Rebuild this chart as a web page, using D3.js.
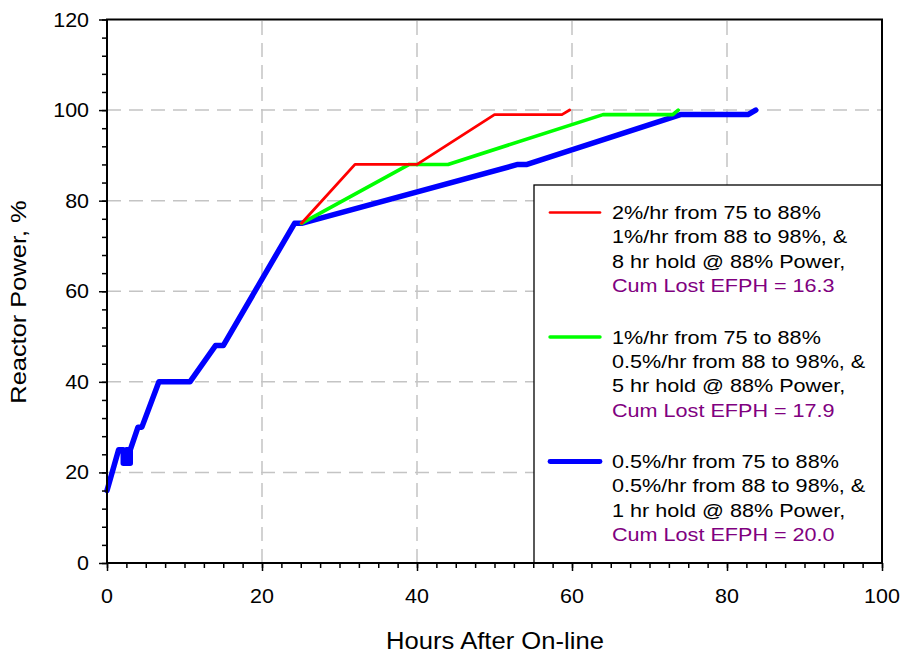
<!DOCTYPE html>
<html>
<head>
<meta charset="utf-8">
<script src="https://cdn.jsdelivr.net/npm/d3@7"></script>
<style>
  html, body { margin: 0; padding: 0; background: #fff; }
  svg { display: block; font-family: "Liberation Sans", Arial, sans-serif; }
</style>
</head>
<body>
<svg width="904" height="653"></svg>
<script>
// 功率爬升曲线：小时 vs 反应堆功率
const blueHours = [0, 1.5, 2.1, 2.1, 2.5, 2.5, 2.7, 2.7, 3.0, 3.0, 4, 4.5, 6.7, 10.7, 14, 15, 24.2, 25.1, 53, 54.2, 74, 82.7, 83.7];
const bluePower = [16, 25, 25, 22, 22, 25, 25, 22, 22, 25, 30, 30, 40, 40, 48, 48, 75, 75, 88, 88, 99, 99, 100];
const greenHours = [25.1, 39, 44, 64, 73, 73.7];
const greenPower = [75, 88, 88, 99, 99, 100];
const redHours = [25.1, 32, 40, 50, 58.7, 59.7];
const redPower = [75, 88, 88, 99, 99, 100];

const xTicks = [0, 20, 40, 60, 80, 100];
const yTicks = [0, 20, 40, 60, 80, 100, 120];

const legendItems = [
  { color: "#ff0000", width: 2.7, lines: ["2%/hr from 75 to 88%", "1%/hr from 88 to 98%, &", "8 hr hold @ 88% Power,"], efph: "Cum Lost EFPH = 16.3" },
  { color: "#00ff00", width: 3.4, lines: ["1%/hr from 75 to 88%", "0.5%/hr from 88 to 98%, &", "5 hr hold @ 88% Power,"], efph: "Cum Lost EFPH = 17.9" },
  { color: "#0000ff", width: 4.8, lines: ["0.5%/hr from 75 to 88%", "0.5%/hr from 88 to 98%, &", "1 hr hold @ 88% Power,"], efph: "Cum Lost EFPH = 20.0" },
];

const svg = d3.select("svg");
const plotLeft = 107, plotRight = 882, plotTop = 19.5, plotBottom = 563;

const x = d3.scaleLinear().domain([0, 100]).range([plotLeft, plotRight]);
const y = d3.scaleLinear().domain([0, 120]).range([plotBottom, plotTop]);

// 网格虚线
svg.append("g")
  .selectAll("line")
  .data(yTicks.filter((v) => v > 0 && v < 120))
  .join("line")
  .attr("x1", plotLeft).attr("x2", plotRight)
  .attr("y1", (d) => y(d)).attr("y2", (d) => y(d))
  .attr("stroke", "#c4c4c4").attr("stroke-width", 1.5)
  .attr("stroke-dasharray", "14,8");

svg.append("g")
  .selectAll("line")
  .data(xTicks.filter((v) => v > 0 && v < 100))
  .join("line")
  .attr("x1", (d) => x(d)).attr("x2", (d) => x(d))
  .attr("y1", plotBottom).attr("y2", plotTop)
  .attr("stroke", "#c4c4c4").attr("stroke-width", 1.5)
  .attr("stroke-dasharray", "14,8");

// 三条曲线
const line = d3.line().x((d) => x(d[0])).y((d) => y(d[1]));
const series = [
  { hours: blueHours, power: bluePower, color: "#0000ff", width: 5.5 },
  { hours: greenHours, power: greenPower, color: "#00ff00", width: 3.6 },
  { hours: redHours, power: redPower, color: "#ff0000", width: 2.8 },
];
series.forEach((s) => {
  svg.append("path")
    .datum(s.hours.map((h, i) => [h, s.power[i]]))
    .attr("d", line)
    .attr("fill", "none")
    .attr("stroke", s.color)
    .attr("stroke-width", s.width)
    .attr("stroke-linejoin", "round")
    .attr("stroke-linecap", "round");
});

// 图例框
svg.append("rect")
  .attr("x", 534).attr("y", 185)
  .attr("width", plotRight - 534).attr("height", plotBottom - 185)
  .attr("fill", "#fff").attr("stroke", "#000").attr("stroke-width", 1.3);

const legend = svg.append("g");
legendItems.forEach((item, i) => {
  const cy = 212.5 + i * 124.5;
  legend.append("line")
    .attr("x1", 550).attr("x2", 600)
    .attr("y1", cy).attr("y2", cy)
    .attr("stroke", item.color).attr("stroke-width", item.width)
    .attr("stroke-linecap", "round");
  item.lines.concat([item.efph]).forEach((t, j) => {
    legend.append("text")
      .attr("transform", `translate(612,${cy + 6.5 + j * 24.4}) scale(1.2,1)`)
      .attr("font-size", 18)
      .attr("fill", j === 3 ? "#800080" : "#000")
      .text(t);
  });
});

// 坐标轴与刻度
const axisG = svg.append("g");
axisG.append("g")
  .attr("transform", `translate(0,${plotBottom})`)
  .call(d3.axisBottom(x).tickValues(d3.range(0, 100.1, 2.5)).tickSize(5).tickFormat(""));
axisG.append("g")
  .attr("transform", `translate(0,${plotBottom})`)
  .call(d3.axisBottom(x).tickValues(xTicks).tickSize(8).tickFormat(""));
axisG.append("g")
  .attr("transform", `translate(${plotLeft},0)`)
  .call(d3.axisLeft(y).tickValues(d3.range(0, 120.1, 4)).tickSize(5).tickFormat(""));
axisG.append("g")
  .attr("transform", `translate(${plotLeft},0)`)
  .call(d3.axisLeft(y).tickValues(yTicks).tickSize(8).tickFormat(""));
axisG.selectAll(".domain").remove();
axisG.selectAll(".tick line").attr("stroke", "#000").attr("stroke-width", 1.5);

// 外框
svg.append("rect")
  .attr("x", plotLeft).attr("y", plotTop)
  .attr("width", plotRight - plotLeft).attr("height", plotBottom - plotTop)
  .attr("fill", "none").attr("stroke", "#000").attr("stroke-width", 2);

// 刻度标签
svg.append("g")
  .selectAll("text")
  .data(xTicks)
  .join("text")
  .attr("transform", (d) => `translate(${x(d)},603) scale(1.1,1)`)
  .attr("text-anchor", "middle")
  .attr("font-size", 19.5)
  .text((d) => d);

svg.append("g")
  .selectAll("text")
  .data(yTicks)
  .join("text")
  .attr("transform", (d) => `translate(89,${y(d) + 7}) scale(1.1,1)`)
  .attr("text-anchor", "end")
  .attr("font-size", 19.5)
  .text((d) => d);

// 轴标题
svg.append("text")
  .attr("transform", `translate(495,649) scale(1.09,1)`)
  .attr("text-anchor", "middle")
  .attr("font-size", 23.5)
  .text("Hours After On-line");

svg.append("text")
  .attr("transform", `translate(26,302) rotate(-90) scale(1.13,1)`)
  .attr("text-anchor", "middle")
  .attr("font-size", 22.5)
  .text("Reactor Power, %");
</script>
</body>
</html>
